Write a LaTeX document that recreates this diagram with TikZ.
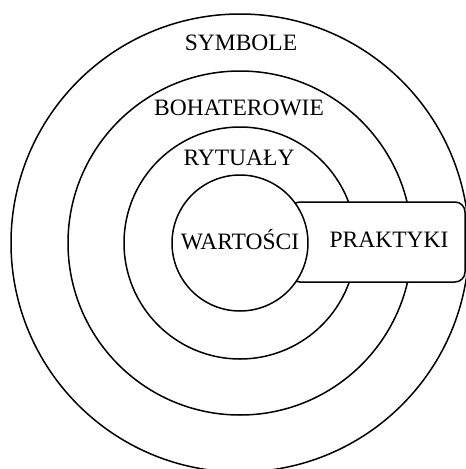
\documentclass[tikz,border=0pt]{standalone}
\usepackage{fontspec}
\setmainfont{Liberation Serif}
\begin{document}
\begin{tikzpicture}[x=1pt,y=-1pt,
  ring/.style={draw=black, line width=1.5pt, circle, inner sep=0pt},
  lbl/.style={font=\fontsize{23.5}{26}\selectfont, inner sep=0pt},
  box/.style={draw=black, line width=1.5pt, fill=white, rounded corners=10pt}]
\useasboundingbox (0,0) rectangle (466,469);
\clip (0,0) rectangle (466,469);
\node[ring, minimum size=458pt] (c4) at (240,243) {};
\node[ring, minimum size=344pt] (c3) at (240,243) {};
\node[ring, minimum size=232pt] (c2) at (240,243) {};
\draw[box] (290,202) rectangle (465,282);
\node[ring, fill=white, minimum size=136pt] (c1) at (240,243) {};
\node[lbl] (symbole) at (241,43) {SYMBOLE};
\node[lbl] (bohaterowie) at (239,108) {BOHATEROWIE};
\node[lbl] (rytualy) at (239,158) {RYTUAŁY};
\node[lbl] (wartosci) at (240,240) {WARTOŚCI};
\node[lbl] (praktyki) at (389,240) {PRAKTYKI};
\end{tikzpicture}
\end{document}
